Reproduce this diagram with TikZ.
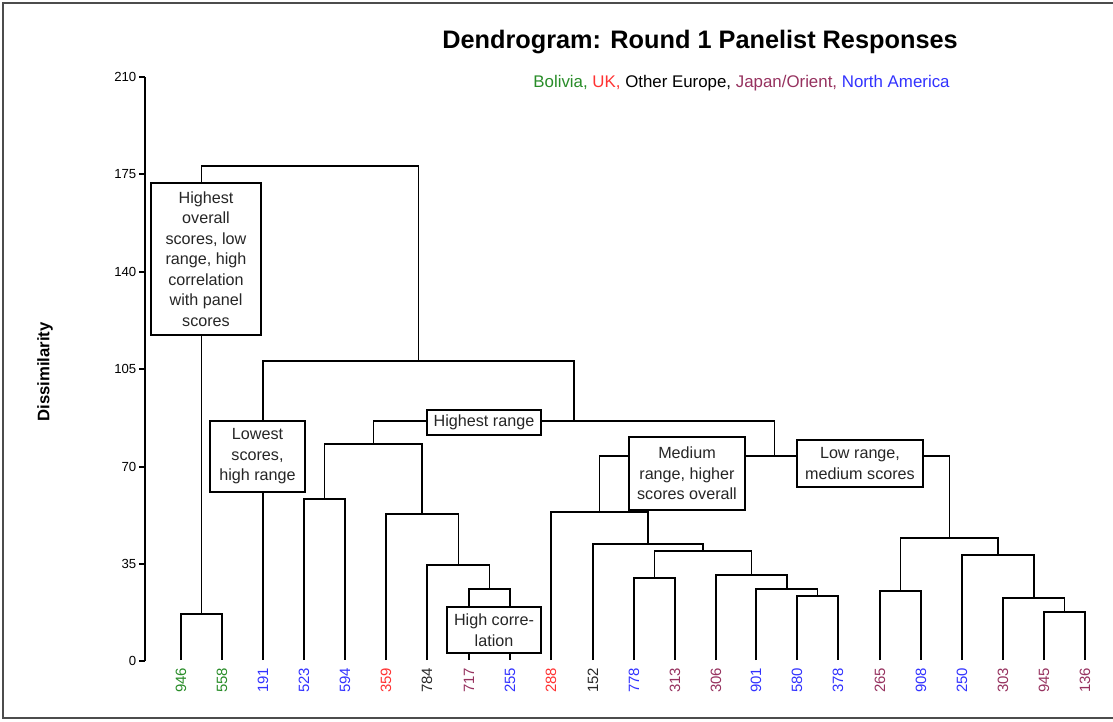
\documentclass[tikz,border=0pt]{standalone}
\usepackage{fontspec}
\setmainfont{Liberation Sans}
\definecolor{bolivia}{RGB}{40,140,40}
\definecolor{uk}{RGB}{255,50,50}
\definecolor{europe}{RGB}{40,40,40}
\definecolor{japan}{RGB}{150,50,95}
\definecolor{america}{RGB}{50,50,255}
\tikzset{
  leaf/.style={rotate=90,anchor=east,inner sep=0.16cm,outer sep=0pt,font=\fontsize{8.5}{10}\selectfont},
  note/.style={draw,fill=white,align=center,inner sep=0pt,outer sep=0pt,text=black!85,font=\fontsize{9.2}{11.7}\selectfont},
  ticklabel/.style={anchor=east,inner sep=0pt,font=\fontsize{7.5}{9}\selectfont}
}

\begin{document}
\begin{tikzpicture}[x=0.02cm,y=-0.02cm,line width=0.8pt]
\useasboundingbox (0,0) rectangle (1113,721);
\draw [line width=1pt,black!70] (1113,3) -- (3,3) -- (3,718) -- (1113,718);

% title and legend
\node (title) at (700,42) [font=\bfseries\fontsize{14.4}{17}\selectfont] {Dendrogram: Round 1 Panelist Responses};
\node (legend) at (741.5,83) [font=\fontsize{9.6}{11}\selectfont] {\textcolor{bolivia}{Bolivia,} \textcolor{uk}{UK,} Other Europe, \textcolor{japan}{Japan/Orient,} \textcolor{america}{North America}};

% axis
\node (ylabel) at (45,372) [rotate=90,font=\bfseries\fontsize{9.5}{11}\selectfont] {Dissimilarity};
\draw (145,77) -- (145,661);
\node (t0)   at (137,661) [ticklabel] {0};
\node (t35)  at (137,564) [ticklabel] {35};
\node (t70)  at (137,467) [ticklabel] {70};
\node (t105) at (137,369) [ticklabel] {105};
\node (t140) at (137,272) [ticklabel] {140};
\node (t175) at (137,174) [ticklabel] {175};
\node (t210) at (137,77)  [ticklabel] {210};
\draw (139,661) -- (145,661);
\draw (139,564) -- (145,564);
\draw (139,467) -- (145,467);
\draw (139,369) -- (145,369);
\draw (139,272) -- (145,272);
\draw (139,174) -- (145,174);
\draw (139,77)  -- (145,77);

% leaves
\node (946) at (181,660)  [leaf,text=bolivia] {946};
\node (558) at (222,660)  [leaf,text=bolivia] {558};
\node (191) at (263,660)  [leaf,text=america] {191};
\node (523) at (304,660)  [leaf,text=america] {523};
\node (594) at (345,660)  [leaf,text=america] {594};
\node (359) at (386,660)  [leaf,text=uk] {359};
\node (784) at (427,660)  [leaf,text=europe] {784};
\node (717) at (469,660)  [leaf,text=japan] {717};
\node (255) at (510,660)  [leaf,text=america] {255};
\node (288) at (551,660)  [leaf,text=uk] {288};
\node (152) at (593,660)  [leaf,text=europe] {152};
\node (778) at (634,660)  [leaf,text=america] {778};
\node (313) at (675,660)  [leaf,text=japan] {313};
\node (306) at (716,660)  [leaf,text=japan] {306};
\node (901) at (756,660)  [leaf,text=america] {901};
\node (580) at (797,660)  [leaf,text=america] {580};
\node (378) at (838,660)  [leaf,text=america] {378};
\node (265) at (880,660)  [leaf,text=japan] {265};
\node (908) at (921,660)  [leaf,text=america] {908};
\node (250) at (962,660)  [leaf,text=america] {250};
\node (303) at (1003,660) [leaf,text=japan] {303};
\node (945) at (1044,660) [leaf,text=japan] {945};
\node (136) at (1085,660) [leaf,text=japan] {136};

% merges
\coordinate (m1)  at (201.5,614);
\coordinate (m2)  at (489.5,589);
\coordinate (m3)  at (458.3,565);
\coordinate (m4)  at (422.1,514);
\coordinate (m5)  at (324.5,499);
\coordinate (m6)  at (373.3,444);
\coordinate (m7)  at (654.5,578);
\coordinate (m8)  at (817.5,596);
\coordinate (m9)  at (786.8,589);
\coordinate (m10) at (751.4,575);
\coordinate (m11) at (703,551);
\coordinate (m12) at (648,544);
\coordinate (m13) at (599.5,512);
\coordinate (m14) at (900.5,591);
\coordinate (m15) at (1064.5,612);
\coordinate (m16) at (1033.8,598);
\coordinate (m17) at (997.9,555);
\coordinate (m18) at (949.2,538);
\coordinate (m19) at (774.3,456);
\coordinate (m20) at (573.8,421);
\coordinate (m21) at (418.4,361);
\coordinate (m22) at (310,166);

\draw (946.east) |- (m1) -| (558.east);
\draw (717.east) |- (m2) -| (255.east);
\draw (784.east) |- (m3) -| (m2);
\draw (359.east) |- (m4) -| (m3);
\draw (523.east) |- (m5) -| (594.east);
\draw (m5) |- (m6) -| (m4);
\draw (778.east) |- (m7) -| (313.east);
\draw (580.east) |- (m8) -| (378.east);
\draw (901.east) |- (m9) -| (m8);
\draw (306.east) |- (m10) -| (m9);
\draw (m7) |- (m11) -| (m10);
\draw (152.east) |- (m12) -| (m11);
\draw (288.east) |- (m13) -| (m12);
\draw (265.east) |- (m14) -| (908.east);
\draw (945.east) |- (m15) -| (136.east);
\draw (303.east) |- (m16) -| (m15);
\draw (250.east) |- (m17) -| (m16);
\draw (m14) |- (m18) -| (m17);
\draw (m13) |- (m19) -| (m18);
\draw (m6) |- (m20) -| (m19);
\draw (191.east) |- (m21) -| (m20);
\draw (m1) |- (m22) -| (m21);

% cluster notes
\node (overall) at (206,259)   [note,minimum width=2.2cm,minimum height=3.04cm] {Highest\\overall\\scores, low\\range, high\\correlation\\with panel\\scores};
\node (lowest)  at (257.5,456.5) [note,minimum width=1.9cm,minimum height=1.42cm] {Lowest\\scores,\\high range};
\node (range)   at (484,422.5) [note,minimum width=2.28cm,minimum height=0.5cm] {Highest range};
\node (medium)  at (687,473.5) [note,minimum width=2.32cm,minimum height=1.46cm] {Medium\\range, higher\\scores overall};
\node (low)     at (860,463.5) [note,minimum width=2.52cm,minimum height=0.94cm] {Low range,\\medium scores};
\node (corr)    at (494,630)   [note,minimum width=1.88cm,minimum height=0.92cm] {High corre-\\lation};
\end{tikzpicture}
\end{document}
